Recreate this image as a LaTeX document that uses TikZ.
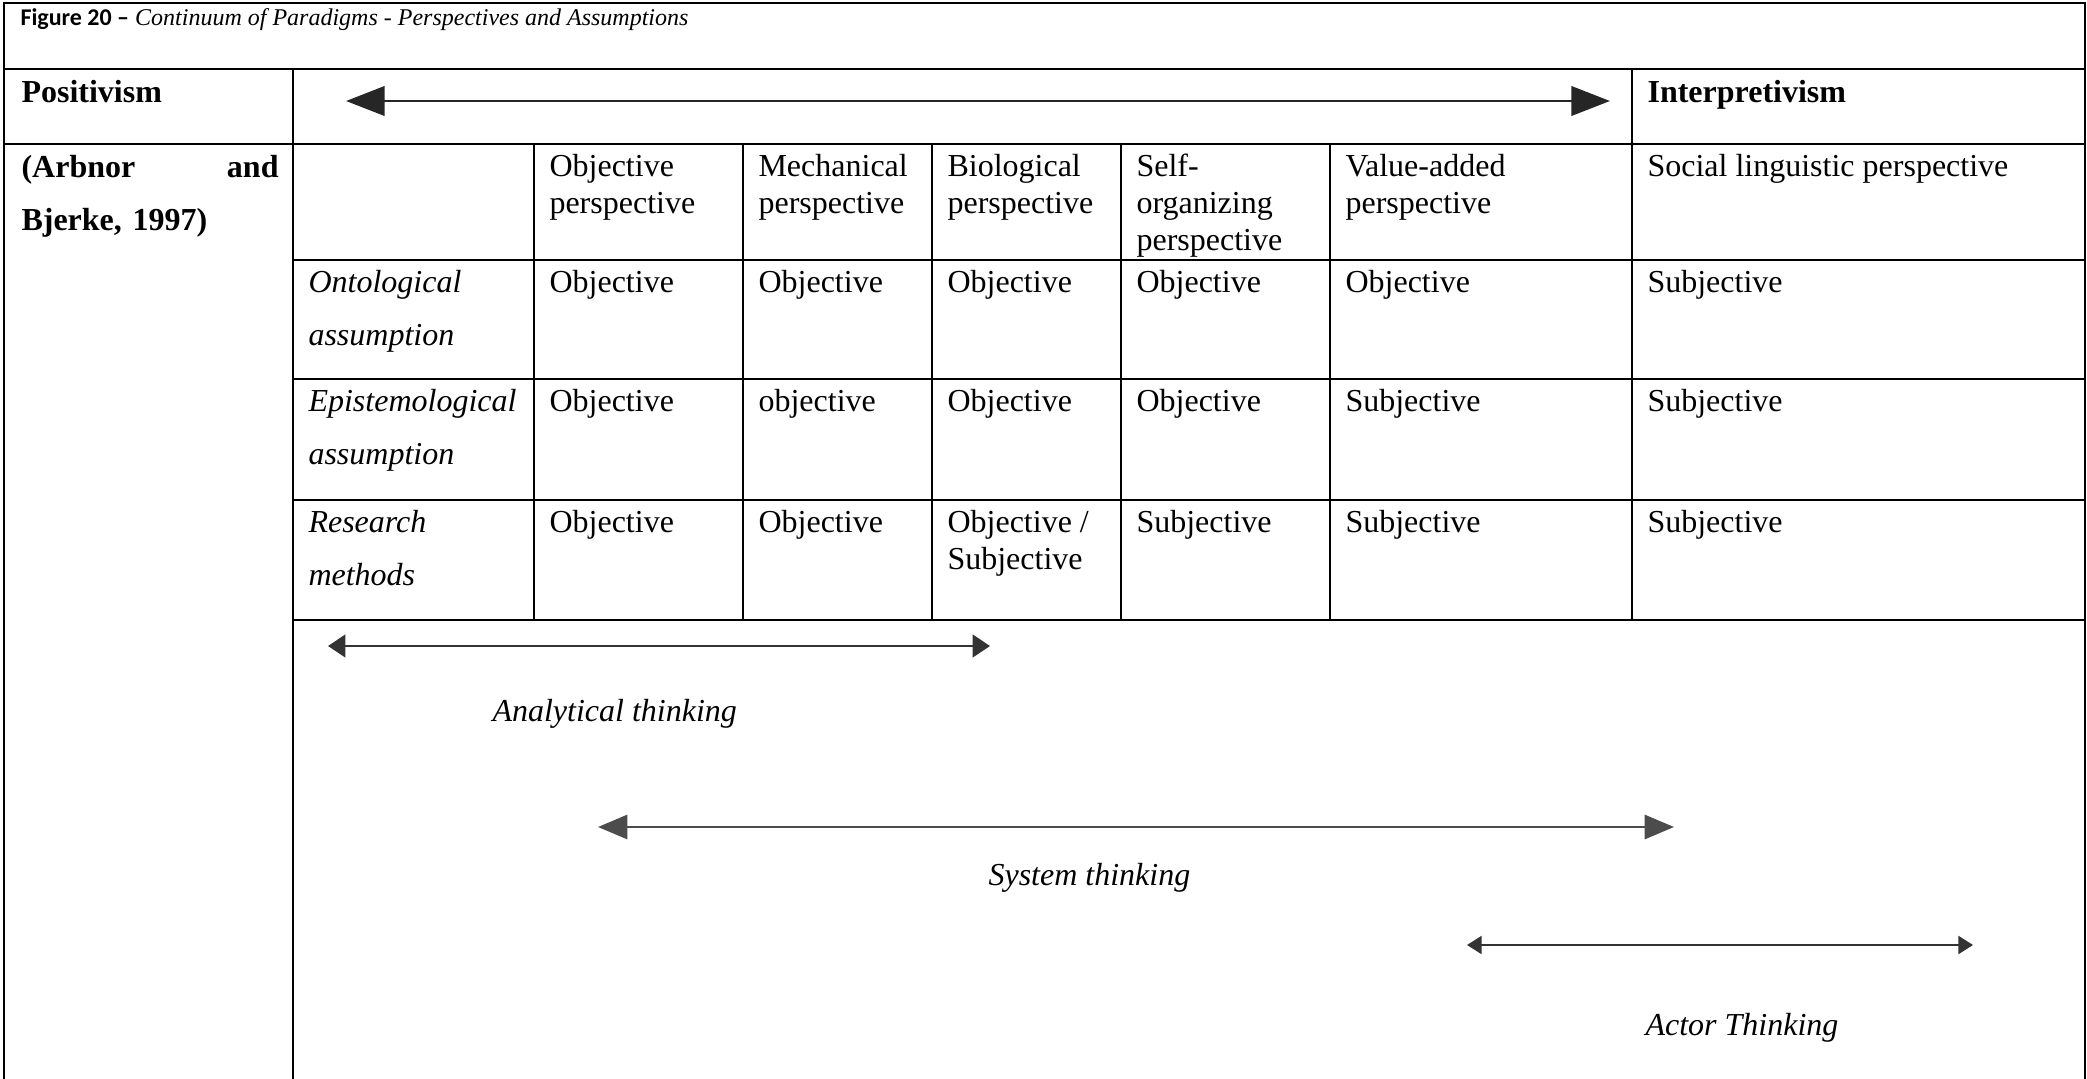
\documentclass[tikz,border=0pt]{standalone}
\usepackage{fontspec}
\setmainfont{Liberation Serif}
\newfontfamily\capfont{Carlito}
\usetikzlibrary{arrows.meta}
% fixed first-line strut so every cell's first baseline sits at the same depth
\newcommand\cst{\rule{0pt}{9pt}}
\begin{document}
\begin{tikzpicture}[x=0.375pt,y=-0.375pt,
  rule/.style={line width=1pt,line cap=rect},
  cell/.style={anchor=north west,inner sep=0pt,align=left,font=\fontsize{12}{13.8}\selectfont},
  rowlab/.style={anchor=north west,inner sep=0pt,align=left,font=\fontsize{12}{20}\selectfont\itshape},
  paradigm/.style={anchor=base west,inner sep=0pt,font=\fontsize{12}{13.8}\selectfont\bfseries},
  thinklab/.style={anchor=base west,inner sep=0pt,font=\fontsize{12}{13.8}\selectfont\itshape},
  bigarrow/.style={line width=1.1pt,draw=black!85,
    {Triangle[length=14.5pt,width=11pt]}-{Triangle[length=14.5pt,width=11pt]}},
  midarrow/.style={line width=1.1pt,draw=black!70,
    {Triangle[length=11pt,width=9pt]}-{Triangle[length=11pt,width=9pt]}},
  smallarrow/.style={line width=0.8pt,draw=black!80,
    {Triangle[length=6.5pt,width=8.5pt]}-{Triangle[length=6.5pt,width=8.5pt]}},
  tinyarrow/.style={line width=0.7pt,draw=black!80,
    {Triangle[length=5.5pt,width=6.8pt]}-{Triangle[length=5.5pt,width=6.8pt]}}
]
\useasboundingbox (0,0) rectangle (2087,1078);

% ---- table rules ----
\draw[rule] (4,1078) -- (4,3) -- (2085,3) -- (2085,1078);
\draw[rule] (4,69) -- (2085,69);
\draw[rule] (4,144) -- (2085,144);
\draw[rule] (293,260) -- (2085,260);
\draw[rule] (293,379) -- (2085,379);
\draw[rule] (293,500) -- (2085,500);
\draw[rule] (293,620) -- (2085,620);
\draw[rule] (293,69) -- (293,1078);
\draw[rule] (1632,69) -- (1632,620);
\foreach \cx in {534,743,932,1121,1330}
  \draw[rule] (\cx,144) -- (\cx,620);

% ---- caption ----
\node[anchor=base west,inner sep=0pt,font=\fontsize{9}{11}\selectfont] (title) at (20,25)
  {{\capfont\bfseries Figure 20 –} \textit{Continuum of Paradigms - Perspectives and Assumptions}};

% ---- paradigm row ----
\node[paradigm] (pos) at (21,102) {Positivism};
\node[paradigm] (int) at (1647,102) {Interpretivism};
\node[anchor=north west,inner sep=0pt,text width=96.4pt,align=left,
      font=\fontsize{12}{20}\selectfont\bfseries] (src) at (21,153)
  {\cst(Arbnor\hfill and\\Bjerke, 1997)};

% ---- header row ----
\node[cell] (h2) at (549,152) {\cst Objective\\perspective};
\node[cell] (h3) at (758,152) {\cst Mechanical\\perspective};
\node[cell] (h4) at (947,152) {\cst Biological\\perspective};
\node[cell] (h5) at (1136,152) {\cst Self-\\organizing\\perspective};
\node[cell] (h6) at (1345,152) {\cst Value-added\\perspective};
\node[cell] (h7) at (1647,152) {\cst Social linguistic perspective};

% ---- ontological row ----
\node[rowlab] (lo) at (308,268) {\cst Ontological\\assumption};
\node[cell] (o2) at (549,268) {\cst Objective};
\node[cell] (o3) at (758,268) {\cst Objective};
\node[cell] (o4) at (947,268) {\cst Objective};
\node[cell] (o5) at (1136,268) {\cst Objective};
\node[cell] (o6) at (1345,268) {\cst Objective};
\node[cell] (o7) at (1647,268) {\cst Subjective};

% ---- epistemological row ----
\node[rowlab] (le) at (308,387) {\cst Epistemological\\assumption};
\node[cell] (e2) at (549,387) {\cst Objective};
\node[cell] (e3) at (758,387) {\cst objective};
\node[cell] (e4) at (947,387) {\cst Objective};
\node[cell] (e5) at (1136,387) {\cst Objective};
\node[cell] (e6) at (1345,387) {\cst Subjective};
\node[cell] (e7) at (1647,387) {\cst Subjective};

% ---- research methods row ----
\node[rowlab] (lr) at (308,508) {\cst Research\\methods};
\node[cell] (r2) at (549,508) {\cst Objective};
\node[cell] (r3) at (758,508) {\cst Objective};
\node[cell] (r4) at (947,508) {\cst Objective /\\Subjective};
\node[cell] (r5) at (1136,508) {\cst Subjective};
\node[cell] (r6) at (1345,508) {\cst Subjective};
\node[cell] (r7) at (1647,508) {\cst Subjective};

% ---- continuum arrows ----
\coordinate (cL) at (346,101);
\coordinate (cR) at (1610,101);
\draw[bigarrow] (cL) -- (cR);

\coordinate (aL) at (328,646);
\coordinate (aR) at (990,646);
\draw[smallarrow] (aL) -- (aR);
\node[thinklab] (anl) at (492,721) {Analytical thinking};

\coordinate (sL) at (598,827);
\coordinate (sR) at (1674,827);
\draw[midarrow] (sL) -- (sR);
\node[thinklab] (sys) at (988,885) {System thinking};

\coordinate (tL) at (1467,945);
\coordinate (tR) at (1973,945);
\draw[tinyarrow] (tL) -- (tR);
\node[thinklab] (act) at (1645,1035) {Actor Thinking};
\end{tikzpicture}
\end{document}
